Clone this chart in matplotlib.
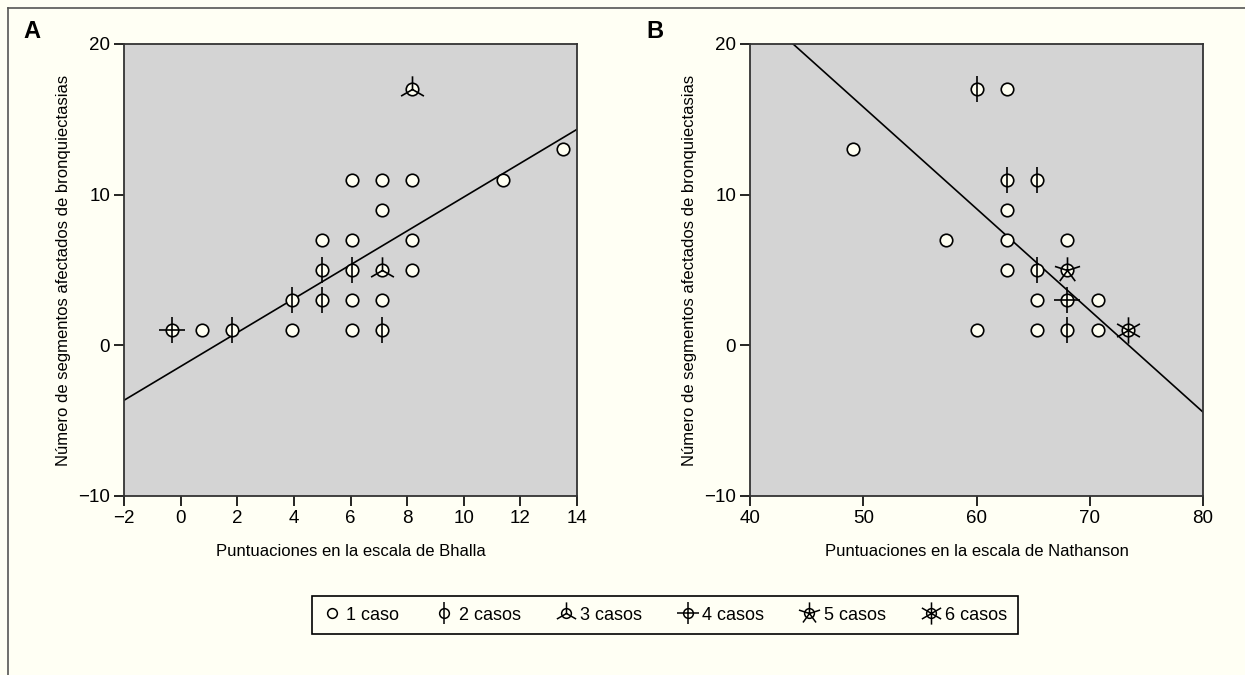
import numpy as np
import matplotlib
matplotlib.use("Agg")
import matplotlib.pyplot as plt
from matplotlib.path import Path
from matplotlib.lines import Line2D
from matplotlib.legend_handler import HandlerTuple

plt.rcParams['font.family'] = ['Liberation Sans', 'DejaVu Sans']

# ---- Panel A data (Bhalla score vs number of segments), with number of cases
a_x = [-0.32, 0.74, 1.8, 3.92, 3.92, 4.98, 4.98, 4.98, 6.04, 6.04, 6.04, 6.04, 6.04,
       7.1, 7.1, 7.1, 7.1, 7.1, 8.16, 8.16, 8.16, 8.16, 11.4, 13.5]
a_y = [1, 1, 1, 1, 3, 3, 5, 7, 1, 3, 5, 7, 11,
       1, 3, 5, 9, 11, 17, 11, 7, 5, 11, 13]
a_n = [4, 1, 2, 1, 2, 2, 2, 1, 1, 1, 2, 1, 1,
       2, 1, 3, 1, 1, 3, 1, 1, 1, 1, 1]
a_fit = (-1.40, 1.124)   # intercept, slope

# ---- Panel B data (Nathanson score vs number of segments)
b_x = [49.1, 57.3, 60.0, 60.0, 62.7, 62.7, 62.7, 62.7, 62.7,
       65.3, 65.3, 65.3, 65.3, 68.0, 68.0, 68.0, 68.0, 70.7, 70.7, 73.4]
b_y = [13, 7, 17, 1, 17, 11, 9, 7, 5,
       11, 5, 3, 1, 7, 5, 3, 1, 3, 1, 1]
b_n = [1, 1, 2, 1, 1, 2, 1, 1, 1,
       2, 2, 1, 1, 1, 5, 4, 2, 1, 1, 6]
b_fit = (49.57, -0.675)

legend_labels = ["1 caso", "2 casos", "3 casos", "4 casos", "5 casos", "6 casos"]

BG = "#FFFFF4"
FACE = "#D4D4D4"
FILL = "#FFFFF2"


def petal_path(n):
    verts, codes = [], []
    for k in range(n):
        ang = np.pi / 2 + 2 * np.pi * k / n
        verts += [(0, 0), (np.cos(ang), np.sin(ang))]
        codes += [Path.MOVETO, Path.LINETO]
    return Path(verts, codes)


def draw_sunflowers(ax, xs, ys, ns):
    xs, ys, ns = np.array(xs), np.array(ys), np.array(ns)
    ax.plot(xs, ys, ls='none', marker='o', ms=9, mfc=FILL, mec='black', mew=1.2, zorder=3)
    for n in range(2, 7):
        sel = ns == n
        if not sel.any():
            continue
        ax.plot(xs[sel], ys[sel], ls='none', marker=petal_path(n), ms=19,
                mec='black', mew=1.2, zorder=4)


fig = plt.figure(figsize=(12.45, 6.75), dpi=100, facecolor=BG)

axA = fig.add_axes([124 / 1245, 1 - 496 / 675, 453 / 1245, 452 / 675])
axB = fig.add_axes([750 / 1245, 1 - 496 / 675, 453 / 1245, 452 / 675])

for ax, xs, ys, ns, fit, xlim, xticks, xlabel, letter, lx in [
    (axA, a_x, a_y, a_n, a_fit, (-2, 14), range(-2, 15, 2),
     "Puntuaciones en la escala de Bhalla", "A", 32),
    (axB, b_x, b_y, b_n, b_fit, (40, 80), range(40, 81, 10),
     "Puntuaciones en la escala de Nathanson", "B", 655),
]:
    ax.set_facecolor(FACE)
    xx = np.array(xlim, dtype=float)
    ax.plot(xx, fit[0] + fit[1] * xx, color='black', lw=1.2, zorder=2)
    draw_sunflowers(ax, xs, ys, ns)
    ax.set_xlim(*xlim)
    ax.set_ylim(-10, 20)
    ax.set_xticks(list(xticks))
    ax.set_yticks([-10, 0, 10, 20])
    ax.set_xticklabels([str(t).replace('-', '\u2212') for t in xticks])
    ax.set_yticklabels(['\u221210', '0', '10', '20'])
    ax.tick_params(direction='out', length=7, width=1.2, labelsize=13.5, pad=3)
    for s in ax.spines.values():
        s.set_linewidth(1.3)
        s.set_color('#333333')
    ax.set_xlabel(xlabel, fontsize=12, labelpad=12)
    ax.set_ylabel("Número de segmentos afectados de bronquiectasias", fontsize=12, labelpad=5)
    fig.text(lx / 1245, 1 - 32 / 675, letter, fontsize=17, fontweight='bold', ha='center', va='center')

# legend
handles = []
for n in range(1, 7):
    c = Line2D([], [], ls='none', marker='o', ms=7, mfc=FILL, mec='black', mew=1.1)
    if n == 1:
        handles.append((c,))
    else:
        p = Line2D([], [], ls='none', marker=petal_path(n), ms=16, mec='black', mew=1.1)
        handles.append((c, p))
leg = fig.legend(handles, legend_labels, ncol=6, loc='center',
                 bbox_to_anchor=(665 / 1245, 1 - 615 / 675), fontsize=13,
                 handler_map={tuple: HandlerTuple(ndivide=1)},
                 frameon=True, fancybox=False, edgecolor='black', facecolor=BG,
                 handlelength=1.0, handletextpad=0.3, columnspacing=2.0,
                 borderpad=0.6)
leg.get_frame().set_linewidth(1.2)
leg.get_frame().set_alpha(None)

# outer border
fig.add_artist(Line2D([8 / 1245, 8 / 1245], [0, 1 - 8 / 675], color='#555555', lw=1.2,
                      transform=fig.transFigure))
fig.add_artist(Line2D([8 / 1245, 1], [1 - 8 / 675, 1 - 8 / 675], color='#555555', lw=1.2,
                      transform=fig.transFigure))

fig.savefig("out.png", dpi=100, facecolor=BG)
